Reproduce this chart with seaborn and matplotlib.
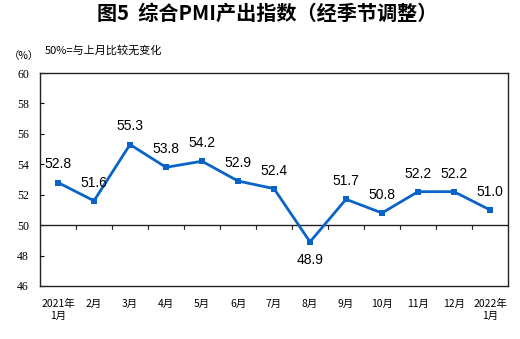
import matplotlib
matplotlib.use("Agg")
import matplotlib.pyplot as plt
import seaborn as sns
import pandas as pd
import numpy as np

months = ["2021年\n1月", "2月", "3月", "4月", "5月", "6月", "7月",
          "8月", "9月", "10月", "11月", "12月", "2022年\n1月"]
pmi = [52.8, 51.6, 55.3, 53.8, 54.2, 52.9, 52.4, 48.9, 51.7, 50.8, 52.2, 52.2, 51.0]
y_ticks = [46, 48, 50, 52, 54, 56, 58, 60]

sns.set_style("white")
plt.rcParams["font.family"] = ["Noto Sans CJK SC", "DejaVu Sans"]
plt.rcParams["text.color"] = "black"

df = pd.DataFrame({"idx": np.arange(len(months)), "pmi": pmi})

fig = plt.figure(figsize=(5.2, 3.39), dpi=100)
ax = fig.add_axes([40 / 520, 1 - 286 / 339, 468 / 520, 213 / 339])

sns.lineplot(data=df, x="idx", y="pmi", ax=ax, color="#0a64c8", linewidth=2,
             marker="s", markersize=5, markeredgewidth=0, zorder=3)

ax.set_xlim(-0.5, len(months) - 0.5)
ax.set_ylim(46, 60)
ax.set_yticks(y_ticks)
ax.set_yticklabels([str(v) for v in y_ticks], fontfamily="Liberation Serif",
                   fontsize=8.5, color="black")
ax.tick_params(axis="y", direction="in", length=3, width=0.8, pad=8,
               left=True, colors="black")
ax.set_xticks([])
ax.set_xlabel("")
ax.set_ylabel("")

for s in ax.spines.values():
    s.set_color("#222222")
    s.set_linewidth(1.0)

# Baseline at 50 with category separator ticks hanging below it
ax.axhline(50, color="#222222", linewidth=1.0, zorder=2)
for b in np.arange(0.5, len(months) - 1, 1.0):
    ax.plot([b, b], [50, 49.75], color="#222222", linewidth=0.8,
            clip_on=False, zorder=2)

# Month labels under the frame
for i, lab in enumerate(months):
    ax.annotate(lab, xy=(i, 46), xycoords="data", xytext=(0, -9),
                textcoords="offset points", ha="center", va="top",
                fontsize=7.5, linespacing=1.35, color="black")

# Value labels
for i, v in enumerate(pmi):
    if v < 50:
        ax.annotate(f"{v:.1f}", xy=(i, v), xytext=(0, -8),
                    textcoords="offset points", ha="center", va="top",
                    fontsize=10, fontfamily="Liberation Sans", color="black")
    else:
        ax.annotate(f"{v:.1f}", xy=(i, v), xytext=(0, 8),
                    textcoords="offset points", ha="center", va="bottom",
                    fontsize=10, fontfamily="Liberation Sans", color="black")

fig.text(267 / 520, 1 - 13 / 339, "图5  综合PMI产出指数（经季节调整）",
         ha="center", va="center", fontsize=14.5, fontweight="bold")
fig.text(24 / 520, 1 - 56 / 339, "（%）", ha="center", va="center",
         fontsize=7.5)
fig.text(45 / 520, 1 - 50 / 339, "50%=与上月比较无变化", ha="left",
         va="center", fontsize=8)

fig.savefig("out.png", dpi=100)
